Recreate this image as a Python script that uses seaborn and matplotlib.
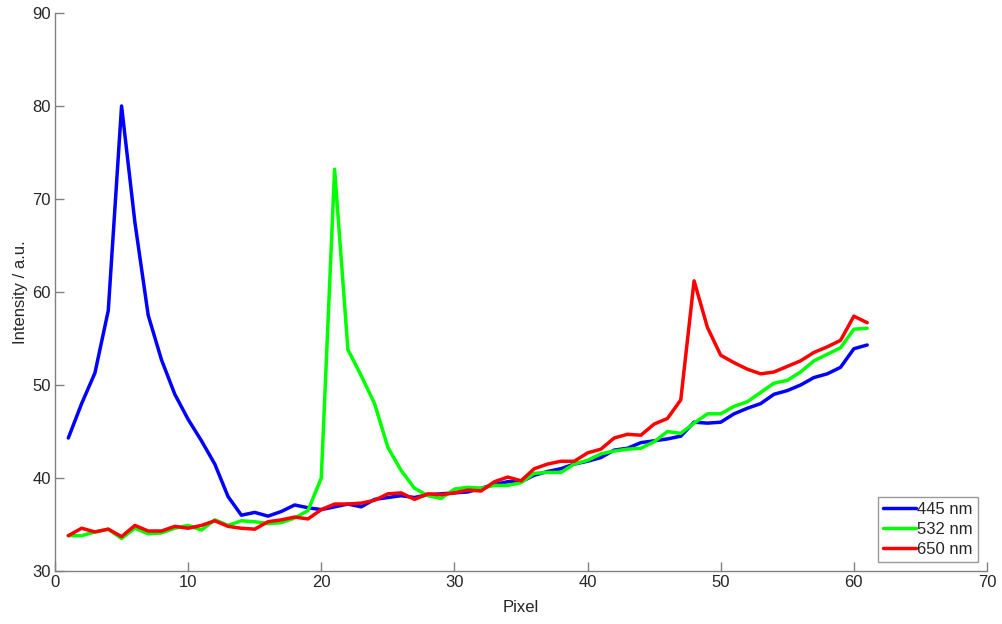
import numpy as np
import pandas as pd
import seaborn as sns
import matplotlib
matplotlib.use("Agg")
import matplotlib.pyplot as plt

pixel = list(range(1, 62))

blue_445 = [44.3, 48.0, 51.3, 58.0, 80.0, 67.5, 57.5, 52.7, 49.0, 46.3,
            44.0, 41.5, 38.0, 36.0, 36.3, 35.9, 36.4, 37.1, 36.8, 36.6,
            36.9, 37.2, 36.9, 37.7, 37.9, 38.1, 37.9, 38.2, 38.3, 38.4,
            38.5, 38.9, 39.3, 39.6, 39.6, 40.3, 40.7, 41.0, 41.5, 41.8,
            42.2, 43.0, 43.2, 43.8, 44.0, 44.2, 44.5, 46.0, 45.9, 46.0,
            46.9, 47.5, 48.0, 49.0, 49.4, 50.0, 50.8, 51.2, 51.9, 53.9, 54.3]

green_532 = [33.8, 33.8, 34.2, 34.5, 33.5, 34.6, 34.0, 34.1, 34.6, 34.9,
             34.4, 35.5, 34.9, 35.4, 35.3, 35.1, 35.2, 35.7, 36.5, 40.0,
             73.2, 53.8, 51.0, 48.0, 43.3, 40.8, 38.9, 38.1, 37.8, 38.8,
             39.0, 38.9, 39.2, 39.2, 39.5, 40.5, 40.6, 40.6, 41.5, 41.9,
             42.6, 42.9, 43.1, 43.2, 43.9, 45.0, 44.8, 45.9, 46.9, 46.9,
             47.7, 48.2, 49.2, 50.2, 50.5, 51.4, 52.6, 53.3, 54.0, 56.0, 56.1]

red_650 = [33.8, 34.6, 34.2, 34.5, 33.7, 34.9, 34.3, 34.3, 34.8, 34.6,
           34.9, 35.4, 34.8, 34.6, 34.5, 35.3, 35.5, 35.8, 35.6, 36.6,
           37.2, 37.2, 37.3, 37.6, 38.3, 38.4, 37.7, 38.3, 38.2, 38.4,
           38.7, 38.6, 39.6, 40.1, 39.7, 41.0, 41.5, 41.8, 41.8, 42.7,
           43.1, 44.3, 44.7, 44.6, 45.8, 46.4, 48.4, 61.2, 56.2, 53.2,
           52.4, 51.7, 51.2, 51.4, 52.0, 52.6, 53.5, 54.1, 54.8, 57.4, 56.7]

labels = ["445 nm", "532 nm", "650 nm"]
colors = ["#0000ff", "#00ff00", "#ff0000"]

df = pd.concat([
    pd.DataFrame({"Pixel": pixel, "Intensity": vals, "Wavelength": lab})
    for vals, lab in zip([blue_445, green_532, red_650], labels)
])

sns.set_style("white")
plt.rcParams["font.family"] = ["Liberation Sans", "DejaVu Sans"]
gray = "#808080"
txt = "#262626"
fs = 12

fig = plt.figure(figsize=(10.02, 6.24), dpi=100)
ax = fig.add_axes([55 / 1002, 53 / 624, 932 / 1002, 558 / 624])

sns.lineplot(data=df, x="Pixel", y="Intensity", hue="Wavelength",
             palette=colors, linewidth=2.5, ax=ax)

ax.set_xlim(0, 70)
ax.set_ylim(30, 90)
ax.set_xticks(np.arange(0, 71, 10))
ax.set_yticks(np.arange(30, 91, 10))
ax.set_xlabel("Pixel", fontsize=fs, color=txt, labelpad=7)
ax.set_ylabel("Intensity / a.u.", fontsize=fs, color=txt, labelpad=3)
ax.tick_params(direction="in", length=6.5, width=1, colors=gray,
               labelcolor=txt, labelsize=fs, pad=3,
               bottom=True, left=True)
for side in ["top", "right"]:
    ax.spines[side].set_visible(False)
for side in ["left", "bottom"]:
    ax.spines[side].set_color(gray)
    ax.spines[side].set_linewidth(1)

leg = ax.legend(loc="lower right", bbox_to_anchor=(0.990, 0.016), fontsize=fs,
                frameon=True, fancybox=False, handlelength=2.0,
                handletextpad=0.05, borderpad=0.3, labelspacing=0.3,
                borderaxespad=0)
leg.get_frame().set_edgecolor(gray)
leg.get_frame().set_linewidth(1)
for t in leg.get_texts():
    t.set_color(txt)
for h in leg.get_lines():
    h.set_linewidth(2.5)

fig.savefig("out.png", dpi=100)
